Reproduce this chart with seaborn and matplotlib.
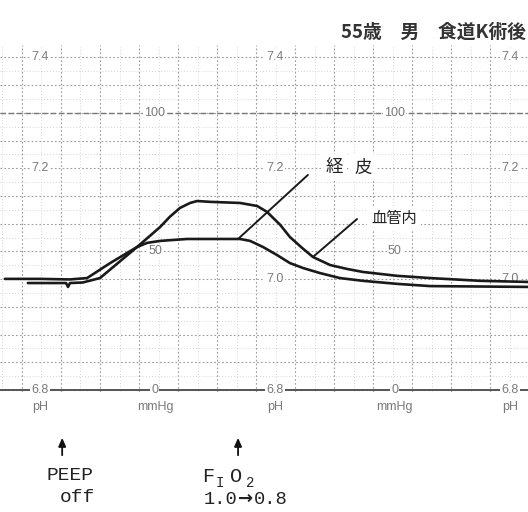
import matplotlib
matplotlib.use("Agg")
import matplotlib.pyplot as plt
from matplotlib.ticker import MultipleLocator
import seaborn as sns
import pandas as pd

# ---------------- data (read from the recorder strip) ----------------
# chart position (arbitrary time units, 10 units = one major division), value in mmHg
t_blood = [1.5, 9.7, 11.3, 11.8, 12.3, 15.6, 20.0, 29.5, 35.4, 37.9, 40.5, 43.1, 44.9,
           48.2, 55.9, 60.3, 62.8, 66.2, 68.7, 71.8, 74.6, 79.0, 83.3, 87.4, 96.2,
           104.6, 117.4, 129.7]
v_blood = [38.6, 38.6, 38.6, 37.2, 38.6, 38.8, 40.4, 51.6, 58.8, 62.5, 65.7, 67.5, 68.2,
           67.9, 67.5, 66.4, 64.3, 59.6, 55.2, 51.3, 48.0, 45.1, 43.7, 42.6, 41.2,
           40.4, 39.4, 39.0]

t_skin = [-4.4, 4.6, 12.3, 16.7, 22.6, 29.5, 32.1, 35.4, 42.3, 55.9, 58.5, 61.8,
          65.4, 68.7, 72.1, 76.4, 81.5, 87.4, 96.2, 104.6, 129.7]
v_skin = [40.1, 40.1, 39.9, 40.4, 45.8, 51.6, 53.1, 53.8, 54.5, 54.5, 53.8, 51.6,
          48.7, 45.8, 44.0, 42.2, 40.4, 39.4, 38.3, 37.5, 37.2]

series_names = ["経皮", "血管内"]
title_text = "55歳　男　食道K術後"
ph_ticks = [6.8, 7.0, 7.2, 7.4]
mmhg_ticks = [0, 50, 100]
event_pos = [10.3, 55.4]

df = pd.concat([
    pd.DataFrame({"t": t_skin, "v": v_skin, "s": series_names[0]}),
    pd.DataFrame({"t": t_blood, "v": v_blood, "s": series_names[1]}),
])

# ---------------- plotting ----------------
sns.set_theme(style="white")
plt.rcParams["font.family"] = ["Noto Sans CJK JP", "DejaVu Sans"]

fig = plt.figure(figsize=(5.28, 5.12), dpi=100)
ax = fig.add_axes([0.0, 1 - 392 / 512, 1.0, (392 - 45) / 512])

ax.set_xlim(-5.64, 129.74)
ax.set_ylim(-0.72, 124.5)

# recorder paper grid
ax.xaxis.set_major_locator(MultipleLocator(10))
ax.yaxis.set_major_locator(MultipleLocator(10))
ax.xaxis.set_minor_locator(MultipleLocator(5))
ax.yaxis.set_minor_locator(MultipleLocator(5))
ax.grid(which="major", color="#9a9a9a", linestyle=(0, (1.5, 2.0)), linewidth=0.8)
ax.grid(which="minor", color="#c8c8c8", linestyle=(0, (1, 2.5)), linewidth=0.6)
ax.tick_params(which="both", length=0, labelbottom=False, labelleft=False)
for sp in ax.spines.values():
    sp.set_visible(False)

ax.axhline(0, color="#555555", lw=1.4, zorder=2)
ax.axhline(100, color="#777777", lw=1.0, ls=(0, (4, 2)), zorder=2)

sns.lineplot(data=df, x="t", y="v", hue="s", units="s", estimator=None, sort=True,
             palette={series_names[0]: "#1a1a1a", series_names[1]: "#1a1a1a"},
             linewidth=1.9, legend=False, ax=ax, zorder=4)
ax.set_xlabel("")
ax.set_ylabel("")

# scale labels printed on the paper
lab_kw = dict(color="#7a7a7a", fontsize=9, family=["Liberation Sans"], ha="center",
              va="center", zorder=3,
              bbox=dict(boxstyle="square,pad=0.08", fc="white", ec="none"))
for xp in [4.6, 64.9, 125.1]:
    for ph in ph_ticks:
        if ph == 7.0 and xp < 10:
            continue
        ax.text(xp, (ph - 6.8) * 200, f"{ph:.1f}", **lab_kw)
    ax.text(xp, -6, "pH", clip_on=False, **lab_kw)
for xp in [34.1, 95.6]:
    for mm in mmhg_ticks:
        ax.text(xp, mm, f"{mm}", **lab_kw)
    ax.text(xp, -6, "mmHg", clip_on=False, **lab_kw)

# series pointers
ax.plot([55.4, 73.3], [54.5, 77.6], color="#1a1a1a", lw=1.4, zorder=5)
ax.plot([74.6, 85.9], [48.0, 61.7], color="#1a1a1a", lw=1.4, zorder=5)
box = dict(boxstyle="square,pad=0.25", fc="white", ec="none")
ax.text(80.0, 80.3, series_names[0][0], fontsize=12.5, color="#222222", ha="center",
        va="center", zorder=5, bbox=box)
ax.text(87.4, 80.3, series_names[0][1], fontsize=12.5, color="#222222", ha="center",
        va="center", zorder=5, bbox=box)
ax.text(95.4, 62.0, series_names[1], fontsize=11, color="#222222", ha="center",
        va="center", zorder=5, bbox=box)

# title
fig.text(0.996, 0.936, title_text, ha="right", va="center", fontsize=13.5,
         fontweight="bold", color="#333333")

# event arrows and notes
for xp in event_pos:
    xf = (xp * 3.9 + 22) / 528
    fig.add_artist(matplotlib.patches.FancyArrowPatch(
        (xf, 1 - 458 / 512), (xf, 1 - 435 / 512), transform=fig.transFigure,
        arrowstyle="-|>,head_length=5,head_width=2.2", color="#111111", lw=1.3))

mono = ["Liberation Mono", "DejaVu Sans Mono"]
tkw = dict(family=mono, color="#222222", va="center")
fig.text(70 / 528, 1 - 476 / 512, "PEEP", ha="center", fontsize=14, **tkw)
fig.text(77 / 528, 1 - 497 / 512, "off", ha="center", fontsize=14, **tkw)
fig.text(202 / 528, 1 - 477 / 512, "F", ha="left", fontsize=14.5, **tkw)
fig.text(216 / 528, 1 - 483 / 512, "I", ha="left", fontsize=10, **tkw)
fig.text(230 / 528, 1 - 477 / 512, "O", ha="left", fontsize=14.5, **tkw)
fig.text(246 / 528, 1 - 483 / 512, "2", ha="left", fontsize=10, **tkw)
fig.text(204 / 528, 1 - 500 / 512, "1.0", ha="left", fontsize=13.5, **tkw)
fig.text(238 / 528, 1 - 499 / 512, "→", ha="left", fontsize=13, family=["DejaVu Sans"],
         fontweight="bold", color="#222222", va="center")
fig.text(254 / 528, 1 - 500 / 512, "0.8", ha="left", fontsize=13.5, **tkw)

fig.savefig("out.png", dpi=100, facecolor="white")
